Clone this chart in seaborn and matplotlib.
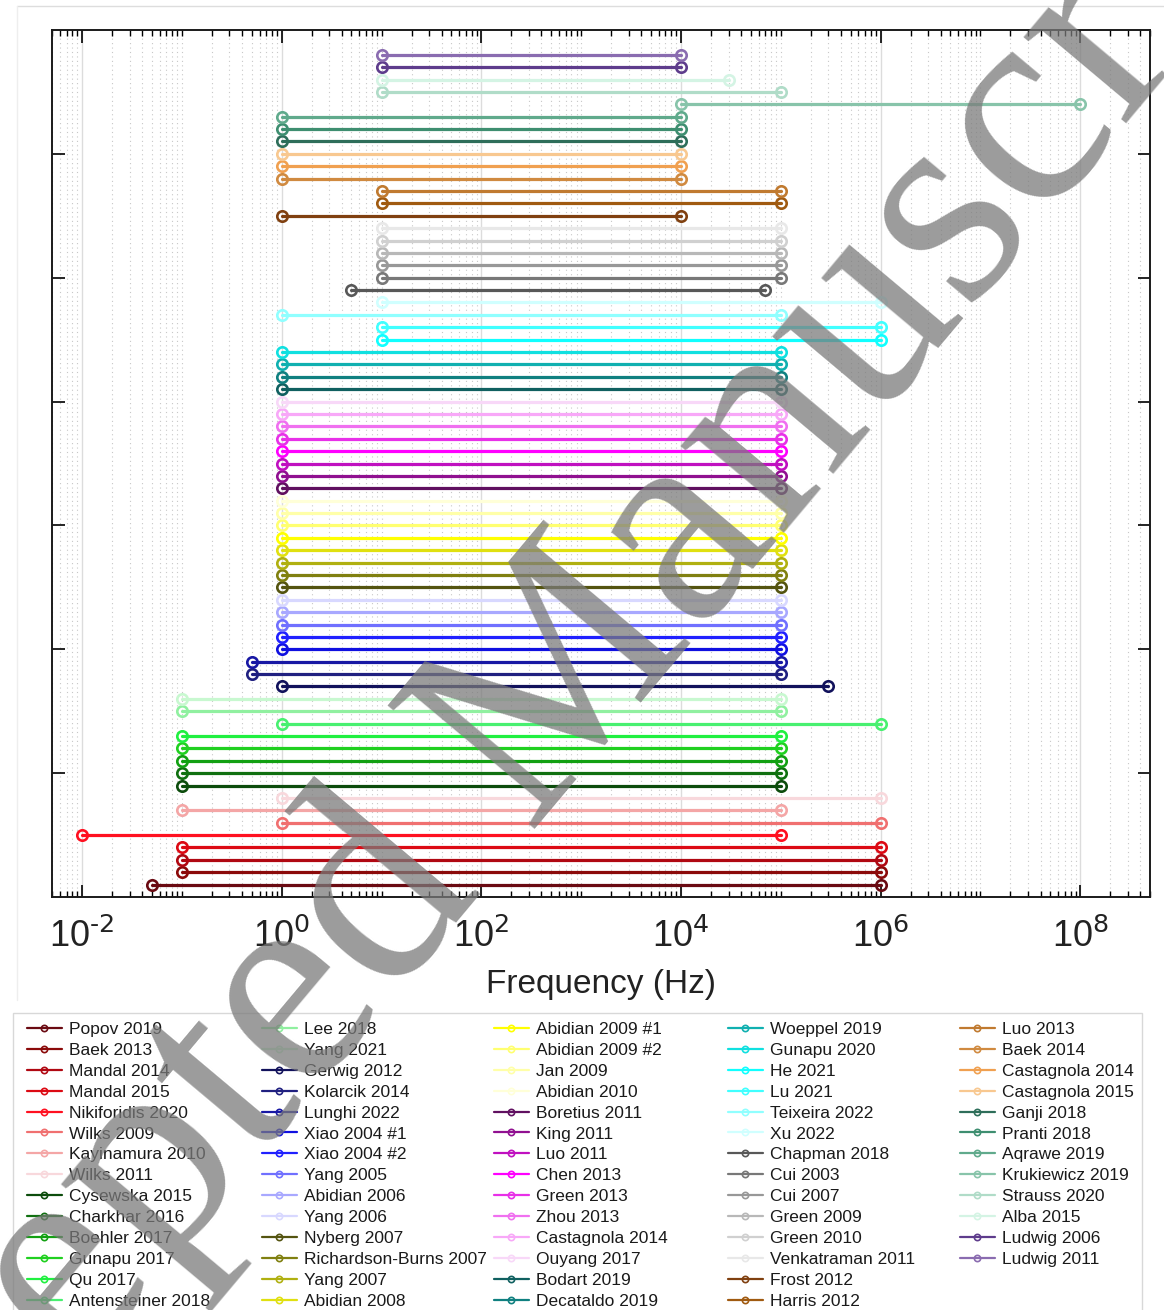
import numpy as np
import pandas as pd
import matplotlib
matplotlib.use("Agg")
import matplotlib.pyplot as plt
import seaborn as sns
from matplotlib.lines import Line2D
from matplotlib.patches import Rectangle
from matplotlib.ticker import FixedLocator, LogLocator, NullFormatter, FuncFormatter
import math

# ---------------- data (bottom row first) ----------------
studies = [
    "Popov 2019", "Baek 2013", "Mandal 2014", "Mandal 2015", "Nikiforidis 2020",
    "Wilks 2009", "Kayinamura 2010", "Wilks 2011", "Cysewska 2015", "Charkhar 2016",
    "Boehler 2017", "Gunapu 2017", "Qu 2017", "Antensteiner 2018",
    "Lee 2018", "Yang 2021", "Gerwig 2012", "Kolarcik 2014", "Lunghi 2022",
    "Xiao 2004 #1", "Xiao 2004 #2", "Yang 2005", "Abidian 2006", "Yang 2006",
    "Nyberg 2007", "Richardson-Burns 2007", "Yang 2007", "Abidian 2008",
    "Abidian 2009 #1", "Abidian 2009 #2", "Jan 2009", "Abidian 2010", "Boretius 2011",
    "King 2011", "Luo 2011", "Chen 2013", "Green 2013", "Zhou 2013",
    "Castagnola 2014", "Ouyang 2017", "Bodart 2019", "Decataldo 2019",
    "Woeppel 2019", "Gunapu 2020", "He 2021", "Lu 2021", "Teixeira 2022",
    "Xu 2022", "Chapman 2018", "Cui 2003", "Cui 2007", "Green 2009",
    "Green 2010", "Venkatraman 2011", "Frost 2012", "Harris 2012",
    "Luo 2013", "Baek 2014", "Castagnola 2014 ", "Castagnola 2015", "Ganji 2018",
    "Pranti 2018", "Aqrawe 2019", "Krukiewicz 2019", "Strauss 2020", "Alba 2015",
    "Ludwig 2006", "Ludwig 2011",
]

f_low = [
    0.05, 0.1, 0.1, 0.1, 0.01,
    1, 0.1, 1, 0.1, 0.1,
    0.1, 0.1, 0.1, 1,
    0.1, 0.1, 1, 0.5, 0.5,
    1, 1, 1, 1, 1,
    1, 1, 1, 1,
    1, 1, 1, 1, 1,
    1, 1, 1, 1, 1,
    1, 1, 1, 1,
    1, 1, 10, 10, 1,
    10, 5, 10, 10, 10,
    10, 10, 1, 10,
    10, 1, 1, 1, 1,
    1, 1, 1e4, 10, 10,
    10, 10,
]

f_high = [
    1e6, 1e6, 1e6, 1e6, 1e5,
    1e6, 1e5, 1e6, 1e5, 1e5,
    1e5, 1e5, 1e5, 1e6,
    1e5, 1e5, 3e5, 1e5, 1e5,
    1e5, 1e5, 1e5, 1e5, 1e5,
    1e5, 1e5, 1e5, 1e5,
    1e5, 1e5, 1e5, 1e5, 1e5,
    1e5, 1e5, 1e5, 1e5, 1e5,
    1e5, 1e5, 1e5, 1e5,
    1e5, 1e5, 1e6, 1e6, 1e5,
    1e6, 7e4, 1e5, 1e5, 1e5,
    1e5, 1e5, 1e4, 1e5,
    1e5, 1e4, 1e4, 1e4, 1e4,
    1e4, 1e4, 1e8, 1e5, 3e4,
    1e4, 1e4,
]

colors = [
    "#6a0a12", "#8b0a0a", "#b00812", "#dc0a14", "#ff1020",
    "#f07070", "#f4a6a6", "#f8d8dc", "#0c4c0c", "#107010",
    "#12a012", "#20d020", "#20f040", "#48f070",
    "#90f0a0", "#c8f8d0", "#12125c", "#202080", "#1818a4",
    "#1010e0", "#2020ff", "#7070ff", "#a8a8ff", "#d8d8ff",
    "#545410", "#808010", "#b0b010", "#e0e010",
    "#ffff00", "#ffff70", "#ffffa8", "#ffffd8", "#601060",
    "#901090", "#c010c0", "#ff00ff", "#e830e8", "#f070f0",
    "#f8a8f8", "#f8d8f8", "#106060", "#108080",
    "#10b0b0", "#10e0e0", "#10ffff", "#40ffff", "#90ffff",
    "#d0ffff", "#585858", "#787878", "#989898", "#b8b8b8",
    "#d0d0d0", "#e8e8e8", "#804010", "#a05a10",
    "#c07a30", "#d08a40", "#f0a050", "#f8c890", "#2e6e5a",
    "#3e8e70", "#60aa8c", "#88c4aa", "#b0dcc8", "#d4f4e4",
    "#5e3c8c", "#8a6cb0",
]

xtick_values = [1e-2, 1e0, 1e2, 1e4, 1e6, 1e8]
ytick_values = [10, 20, 30, 40, 50, 60]

# ---------------- style ----------------
sns.set_theme(style="white")
plt.rcParams["font.family"] = ["Liberation Sans", "DejaVu Sans"]
plt.rcParams["axes.unicode_minus"] = False
plt.rcParams["mathtext.default"] = "regular"

W, H = 1164, 1310
fig = plt.figure(figsize=(W / 100, H / 100), dpi=100)
fig.patch.set_facecolor("white")

def fx(px):
    return px / W

def fy(py):
    return 1 - py / H

ax = fig.add_axes([fx(52), fy(897), fx(1150) - fx(52), fy(30) - fy(897)])
ax.set_xscale("log")

rows = np.arange(1, len(studies) + 1)
df = pd.DataFrame({
    "study": np.repeat(studies, 2),
    "row": np.repeat(rows, 2),
    "freq": np.column_stack([f_low, f_high]).ravel(),
})
palette = dict(zip(studies, colors))

sns.lineplot(data=df, x="freq", y="row", hue="study", hue_order=studies,
             palette=palette, estimator=None, sort=False, legend=False,
             marker="o", linewidth=2.3, markersize=7.5, ax=ax)

for ln in ax.get_lines():
    c = ln.get_color()
    ln.set_markeredgecolor(c)
    ln.set_markerfacecolor("none")
    ln.set_markeredgewidth(1.9)

ax.set_xlim(5e-3, 5e8)
ax.set_ylim(0, 70)

def dec_fmt(v, pos):
    e = int(round(math.log10(v)))
    return r"$10^{\text{%d}}$" % e

ax.xaxis.set_major_locator(FixedLocator(xtick_values))
ax.xaxis.set_major_formatter(FuncFormatter(dec_fmt))
ax.xaxis.set_minor_locator(LogLocator(base=10, subs=np.arange(1, 10), numticks=100))
ax.xaxis.set_minor_formatter(NullFormatter())
ax.set_yticks(ytick_values)
ax.set_yticklabels([])

ax.tick_params(axis="both", which="major", direction="in", length=9, width=1.2,
               top=True, right=True, bottom=True, left=True, colors="black",
               labelsize=26, pad=16)
ax.tick_params(axis="x", which="minor", direction="in", length=4.5, width=1.0,
               top=True, bottom=True, colors="black")
for lab in ax.get_xticklabels():
    lab.set_color("#222222")

ax.grid(False)
ax.xaxis.grid(True, which="major", color="#dcdcdc", linewidth=1.0, linestyle="-")
ax.xaxis.grid(True, which="minor", color="#c8c8c8", linewidth=0.8, linestyle=(0, (1, 3)))
ax.set_axisbelow(True)

for sp in ax.spines.values():
    sp.set_color("#1a1a1a")
    sp.set_linewidth(1.4)

ax.set_xlabel("Frequency (Hz)", fontsize=24, color="#222222", labelpad=10)
ax.set_ylabel("")

# ---------------- legend (5 columns) ----------------
col_x = [27, 262, 494, 728, 960]
per_col = 14
for ci, x0 in enumerate(col_x):
    names = studies[ci * per_col:(ci + 1) * per_col]
    cols = colors[ci * per_col:(ci + 1) * per_col]
    handles = [Line2D([0], [0], color=c, lw=1.6, marker="o", ms=4.5,
                      mfc="none", mec=c, mew=1.2) for c in cols]
    labels = [n.strip() for n in names]
    fig.legend(handles, labels, loc="upper left",
               bbox_to_anchor=(fx(x0), fy(1022)), bbox_transform=fig.transFigure,
               frameon=False, fontsize=12.5, handlelength=2.0, handletextpad=0.4,
               borderpad=0, borderaxespad=0, labelspacing=0.33, labelcolor="#1a1a1a")

# legend frame and outer figure frame
fig.add_artist(Rectangle((fx(13), fy(1340)), fx(1142) - fx(13), fy(1013) - fy(1340),
                         transform=fig.transFigure, fill=False,
                         edgecolor="#d8d8d8", linewidth=1.0))
fig.add_artist(Line2D([fx(17), 1.0], [fy(6), fy(6)], transform=fig.transFigure,
                      color="#dddddd", linewidth=1.0))
fig.add_artist(Line2D([fx(17), fx(17)], [fy(6), fy(1000)], transform=fig.transFigure,
                      color="#eeeeee", linewidth=1.0))

# watermark
fig.text(fx(525), fy(730), "Accepted Manuscript", rotation=50,
         rotation_mode="anchor", ha="center", va="center", fontsize=210,
         family=["Liberation Serif", "DejaVu Serif"], color="#7a7a7a",
         alpha=0.75, zorder=20)

fig.savefig("out.png", dpi=100, facecolor="white")
